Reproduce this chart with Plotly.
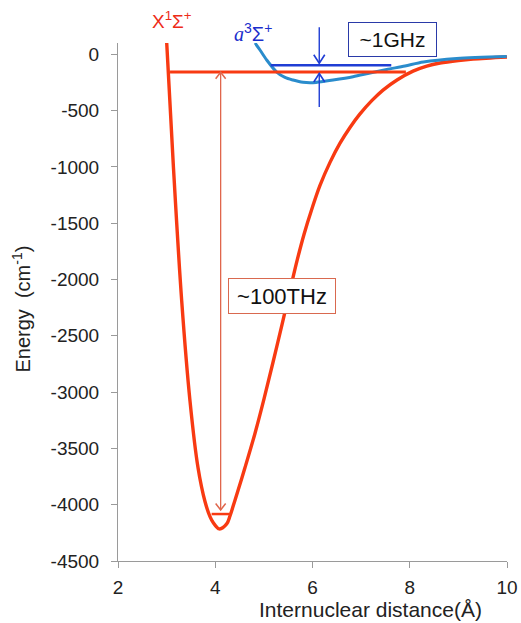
import plotly.graph_objects as go

# ---------------- data ----------------
x_state_r = [3.002, 3.137, 3.310, 3.481, 3.645, 3.789, 3.892, 3.960, 4.083, 4.235, 4.303,
             4.406, 4.612, 4.818, 5.003, 5.188, 5.373, 5.538, 5.681, 5.825, 5.990, 6.154,
             6.360, 6.566, 6.771, 6.977, 7.224, 7.450, 7.738, 8.067, 8.350, 8.622, 9.000,
             9.301, 10.0]
x_state_e = [100, -980, -2191, -3080, -3670, -3972, -4106, -4160, -4215, -4171, -4100,
             -3960, -3670, -3365, -3060, -2735, -2400, -2095, -1835, -1600, -1370, -1165,
             -960, -790, -650, -530, -410, -318, -228, -150, -105, -78, -55,
             -42, -24]

a_state_r = [4.818, 4.920, 5.058, 5.264, 5.434, 5.599, 5.805, 6.010, 6.216, 6.422, 6.833,
             7.183, 7.526, 7.902, 8.279, 8.966, 9.994]
a_state_e = [100, 38, -51, -158, -206, -229, -249, -252, -242, -229, -199,
             -166, -135, -104, -69, -38, -20]

# levels
x_level_r = [3.07, 7.92]
x_level_e = -157
x_ground_r = [3.925, 4.296]
x_ground_e = -4083
a_level_r = [5.14, 7.62]
a_level_e = -98

# arrows
thz_arrow_x = 4.111
thz_arrow_top = -160
thz_arrow_bottom = -4047
ghz_arrow_x = 6.139
ghz_down_tail = 240
ghz_down_tip = -80
ghz_up_tail = -468
ghz_up_tip = -171

x_tick_vals = [2, 4, 6, 8, 10]
x_tick_text = ["2", "4", "6", "8", "10"]
y_tick_vals = [0, -500, -1000, -1500, -2000, -2500, -3000, -3500, -4000, -4500]
y_tick_text = ["0", "-500", "-1000", "-1500", "-2000", "-2500", "-3000", "-3500", "-4000", "-4500"]

x_range = [2, 10]
y_range = [-4500, 100]

# ---------------- layout constants ----------------
W, H = 521, 623
ML, MR, MT, MB = 118, 14, 43, 62
PW = W - ML - MR
PH = H - MT - MB
DX_PER_PX = (x_range[1] - x_range[0]) / PW
DY_PER_PX = (y_range[1] - y_range[0]) / PH

RED = "#f83a12"
BLUE_CURVE = "#2a8ccc"
BLUE = "#1f3dd4"
THIN_RED = "#e0664c"
FONT = "Liberation Sans, Arial, sans-serif"


def chevron(x0, y0, pointing, dx_px, dy_px):
    s = 1 if pointing == "down" else -1
    dx = dx_px * DX_PER_PX
    dy = dy_px * DY_PER_PX
    return [x0 - dx, x0, x0 + dx], [y0 + s * dy, y0, y0 + s * dy]


def y_to_paper(v):
    return (v - y_range[0]) / (y_range[1] - y_range[0])


fig = go.Figure()

fig.add_trace(go.Scatter(x=x_state_r, y=x_state_e, mode="lines",
                         line=dict(color=RED, width=3.4, shape="spline", smoothing=1.0),
                         hoverinfo="skip"))
fig.add_trace(go.Scatter(x=a_state_r, y=a_state_e, mode="lines",
                         line=dict(color=BLUE_CURVE, width=3, shape="spline", smoothing=0.8),
                         hoverinfo="skip"))
fig.add_trace(go.Scatter(x=x_level_r, y=[x_level_e] * 2, mode="lines",
                         line=dict(color=RED, width=3), hoverinfo="skip"))
fig.add_trace(go.Scatter(x=x_ground_r, y=[x_ground_e] * 2, mode="lines",
                         line=dict(color=RED, width=2.5), hoverinfo="skip"))
fig.add_trace(go.Scatter(x=a_level_r, y=[a_level_e] * 2, mode="lines",
                         line=dict(color=BLUE, width=2.6), hoverinfo="skip"))

# THz arrow (thin red, both ends)
fig.add_trace(go.Scatter(x=[thz_arrow_x] * 2, y=[thz_arrow_top, thz_arrow_bottom], mode="lines",
                         line=dict(color=THIN_RED, width=1.3), hoverinfo="skip"))
cx, cy = chevron(thz_arrow_x, thz_arrow_top, "up", 5, 6.5)
fig.add_trace(go.Scatter(x=cx, y=cy, mode="lines", line=dict(color=THIN_RED, width=1.5), hoverinfo="skip"))
cx, cy = chevron(thz_arrow_x, thz_arrow_bottom, "down", 5, 6.5)
fig.add_trace(go.Scatter(x=cx, y=cy, mode="lines", line=dict(color=THIN_RED, width=1.5), hoverinfo="skip"))

# GHz arrows (blue)
fig.add_trace(go.Scatter(x=[ghz_arrow_x] * 2, y=[ghz_up_tail, ghz_up_tip], mode="lines",
                         line=dict(color=BLUE, width=1.4), hoverinfo="skip"))
cx, cy = chevron(ghz_arrow_x, ghz_up_tip, "up", 5.5, 8.5)
fig.add_trace(go.Scatter(x=cx, y=cy, mode="lines", line=dict(color=BLUE, width=1.6), hoverinfo="skip"))
cx, cy = chevron(ghz_arrow_x, ghz_down_tip, "down", 5.5, 8.5)
fig.add_trace(go.Scatter(x=cx, y=cy, mode="lines", line=dict(color=BLUE, width=1.6), hoverinfo="skip"))

# stem of the down arrow, which starts above the plot area (x-clipped only)
shapes = [
    dict(type="line", xref="x", yref="paper",
         x0=ghz_arrow_x, x1=ghz_arrow_x,
         y0=y_to_paper(ghz_down_tail), y1=y_to_paper(ghz_down_tip),
         line=dict(color=BLUE, width=1.4)),
]

annotations = [
    dict(x=0.705, y=1.0068, xref="paper", yref="paper", text="~1GHz", showarrow=False,
         xanchor="center", yanchor="middle",
         font=dict(family=FONT, size=21, color="#111111"), bgcolor="white",
         bordercolor="#2a3aa8", borderwidth=1, borderpad=0, width=87, height=33),
    dict(x=0.4208, y=0.5116, xref="paper", yref="paper", text="~100THz", showarrow=False,
         xanchor="center", yanchor="middle",
         font=dict(family=FONT, size=22, color="#111111"), bgcolor="white",
         bordercolor="#d9694f", borderwidth=1, borderpad=0, width=106, height=34),
    dict(x=0.1388, y=1.0444, xref="paper", yref="paper",
         text="X<sup>1</sup>Σ<sup>+</sup>", showarrow=False, xanchor="center", yanchor="middle",
         font=dict(family=FONT, size=19, color="#ee2b18")),
    dict(x=0.3470, y=1.021, xref="paper", yref="paper",
         text="<span style=\"font-family:'Liberation Serif',serif;font-style:italic\">a</span><sup>3</sup>Σ<sup>+</sup>",
         showarrow=False, xanchor="center", yanchor="middle",
         font=dict(family=FONT, size=20, color="#1a2ecc")),
    dict(x=0.65, y=-0.0927, xref="paper", yref="paper", text="Internuclear distance(Å)",
         showarrow=False, xanchor="center", yanchor="middle",
         font=dict(family=FONT, size=21, color="#222222")),
    dict(x=-0.248, y=0.4865, xref="paper", yref="paper", text="Energy  (cm<sup>-1</sup>)",
         textangle=-90, showarrow=False, xanchor="center", yanchor="middle",
         font=dict(family=FONT, size=20, color="#222222")),
]

fig.update_layout(
    width=W, height=H,
    margin=dict(l=ML, r=MR, t=MT, b=MB, autoexpand=False),
    paper_bgcolor="white", plot_bgcolor="white",
    showlegend=False,
    font=dict(family=FONT, size=19, color="#222222"),
    annotations=annotations,
    shapes=shapes,
    xaxis=dict(range=x_range, tickvals=x_tick_vals, ticktext=x_tick_text, automargin=False,
               showgrid=False, zeroline=False, showline=True, linecolor="#9a9a9a", linewidth=1,
               ticks="outside", ticklen=6, tickcolor="#9a9a9a", ticklabelstandoff=3,
               tickfont=dict(family=FONT, size=19, color="#222222")),
    yaxis=dict(range=y_range, tickvals=y_tick_vals, ticktext=y_tick_text, automargin=False,
               showgrid=False, zeroline=False, showline=True, linecolor="#9a9a9a", linewidth=1,
               ticks="outside", ticklen=6, tickcolor="#9a9a9a", ticklabelstandoff=8,
               tickfont=dict(family=FONT, size=19, color="#222222")),
)

fig.write_html("out.html")
